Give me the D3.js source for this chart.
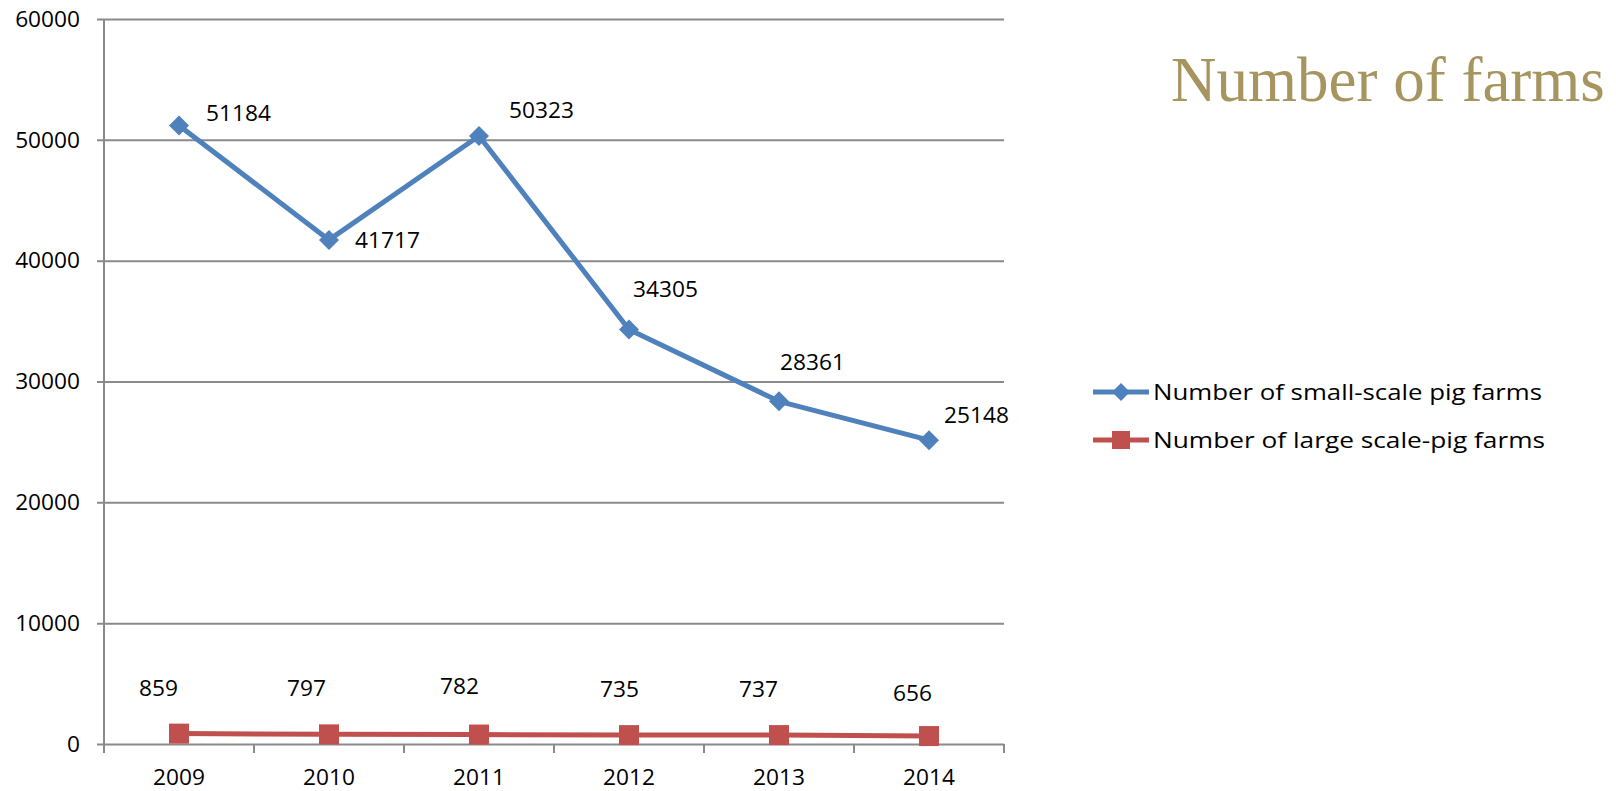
<!DOCTYPE html>
<html>
<head>
<meta charset="utf-8">
<script src="https://cdn.jsdelivr.net/npm/d3@7"></script>
<style>
  html, body { margin: 0; padding: 0; background: #fff; }
  svg { display: block; }
</style>
</head>
<body>
<svg id="chart" width="1616" height="791"></svg>
<script>
// ---- data ----
const years = ["2009", "2010", "2011", "2012", "2013", "2014"];
const smallFarms = [51184, 41717, 50323, 34305, 28361, 25148];
const largeFarms = [859, 797, 782, 735, 737, 656];
const yTicks = [0, 10000, 20000, 30000, 40000, 50000, 60000];
const seriesNames = ["Number of small-scale pig farms", "Number of large scale-pig farms"];
const titleText = "Number of farms";

// ---- label placement (styling) ----
const smallLabelDx = [27, 26, 30, 4, 1, 15];
const smallLabelDy = [-12, 0, -26, -40, -39, -25];
const largeLabelDx = [-40, -42, -39, -29, -40, -36];
const largeLabelDy = [-46, -46, -48, -46, -46, -43];

const blue = "#4F81BD", red = "#C0504D", grid = "#8a8a8a";
const font = "'Open Sans', sans-serif";
const fs = 22.7;

const svg = d3.select("#chart");
const x = d3.scaleBand().domain(years).range([104, 1004]).padding(0);
const y = d3.scaleLinear().domain([0, 60000]).range([744, 19]);
const cx = d => x(d) + x.bandwidth() / 2;

// gridlines + y tick labels
const yAxis = d3.axisLeft(y).tickValues(yTicks).tickSize(-(1004 - 97)).tickFormat(d3.format("d")).tickPadding(17);
const gy = svg.append("g").attr("transform", "translate(97,0)").call(yAxis);
gy.select(".domain").remove();
gy.selectAll(".tick line").attr("stroke", grid).attr("stroke-width", 2);
gy.selectAll(".tick text").attr("font-family", font).attr("font-size", fs).attr("fill", "#000").attr("x", -17);

// y axis line
svg.append("line").attr("x1", 104).attr("x2", 104).attr("y1", y(60000)).attr("y2", 753)
  .attr("stroke", grid).attr("stroke-width", 2);

// x axis ticks at category boundaries
const bounds = years.map(d => x(d)).concat([x(years[years.length - 1]) + x.bandwidth()]);
svg.append("g").selectAll("line").data(bounds).join("line")
  .attr("x1", d => d).attr("x2", d => d).attr("y1", y(0)).attr("y2", 753)
  .attr("stroke", grid).attr("stroke-width", 2);

// x labels
svg.append("g").selectAll("text").data(years).join("text")
  .attr("x", d => cx(d)).attr("y", 784.5).attr("text-anchor", "middle")
  .attr("font-family", font).attr("font-size", fs).attr("fill", "#000").text(d => d);

// lines
const line = d3.line().x((v, i) => cx(years[i])).y(v => y(v));
svg.append("path").datum(smallFarms).attr("d", line).attr("fill", "none")
  .attr("stroke", blue).attr("stroke-width", 5).attr("stroke-linejoin", "round");
svg.append("path").datum(largeFarms).attr("d", line).attr("fill", "none")
  .attr("stroke", red).attr("stroke-width", 5).attr("stroke-linejoin", "round");

function diamond(px, py, r) {
  return `M${px},${py - r}L${px + r},${py}L${px},${py + r}L${px - r},${py}Z`;
}
// markers
svg.append("g").selectAll("path").data(smallFarms).join("path")
  .attr("d", (v, i) => diamond(cx(years[i]), y(v), 10)).attr("fill", blue);
svg.append("g").selectAll("rect").data(largeFarms).join("rect")
  .attr("x", (v, i) => cx(years[i]) - 10).attr("y", v => y(v) - 10)
  .attr("width", 20).attr("height", 20).attr("fill", red);

// data labels
svg.append("g").selectAll("text").data(smallFarms).join("text")
  .attr("x", (v, i) => cx(years[i]) + smallLabelDx[i])
  .attr("y", (v, i) => y(v) + smallLabelDy[i]).attr("dy", "0.35em")
  .attr("font-family", font).attr("font-size", fs).attr("fill", "#000").text(v => v);
svg.append("g").selectAll("text").data(largeFarms).join("text")
  .attr("x", (v, i) => cx(years[i]) + largeLabelDx[i])
  .attr("y", (v, i) => y(v) + largeLabelDy[i]).attr("dy", "0.35em")
  .attr("font-family", font).attr("font-size", fs).attr("fill", "#000").text(v => v);

// legend
const legendRows = [392, 440];
const lg = svg.append("g");
seriesNames.forEach((name, i) => {
  const col = i === 0 ? blue : red;
  const ry = legendRows[i];
  lg.append("line").attr("x1", 1093).attr("x2", 1149).attr("y1", ry).attr("y2", ry)
    .attr("stroke", col).attr("stroke-width", 5);
  if (i === 0) lg.append("path").attr("d", diamond(1121, ry, 9)).attr("fill", col);
  else lg.append("rect").attr("x", 1112).attr("y", ry - 9).attr("width", 18).attr("height", 18).attr("fill", col);
  lg.append("text").attr("x", 1153).attr("y", ry).attr("dy", "0.35em")
    .attr("font-family", font).attr("font-size", fs).attr("fill", "#000")
    .attr("textLength", i === 0 ? 389 : 392).attr("lengthAdjust", "spacingAndGlyphs")
    .text(name);
});

// title
svg.append("text").attr("x", 1171).attr("y", 101)
  .attr("font-family", "'Liberation Serif', 'Times New Roman', serif").attr("font-size", 63)
  .attr("fill", "#A6955F").text(titleText);
</script>
</body>
</html>
